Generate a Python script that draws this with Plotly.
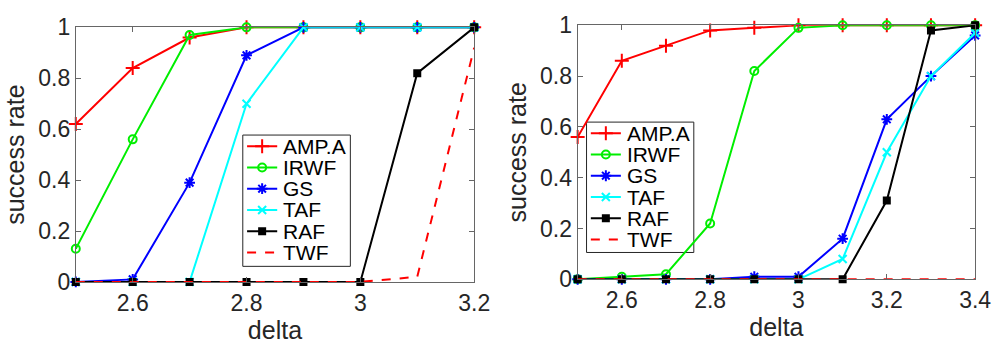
import plotly.graph_objects as go

# delta grids for the two experiments
delta_left = [2.5, 2.6, 2.7, 2.8, 2.9, 3.0, 3.1, 3.2]
delta_right = [2.5, 2.6, 2.7, 2.8, 2.9, 3.0, 3.1, 3.2, 3.3, 3.4]

# success rates, left panel
amp_left = [0.62, 0.84, 0.96, 1.0, 1.0, 1.0, 1.0, 1.0]
irwf_left = [0.13, 0.56, 0.97, 1.0, 1.0, 1.0, 1.0, 1.0]
gs_left = [0.0, 0.01, 0.39, 0.89, 1.0, 1.0, 1.0, 1.0]
taf_left = [0.0, 0.0, 0.0, 0.70, 1.0, 1.0, 1.0, 1.0]
raf_left = [0.0, 0.0, 0.0, 0.0, 0.0, 0.0, 0.82, 1.0]
twf_left = [0.0, 0.0, 0.0, 0.0, 0.0, 0.0, 0.02, 0.92]

# success rates, right panel
amp_right = [0.56, 0.86, 0.92, 0.98, 0.99, 1.0, 1.0, 1.0, 1.0, 1.0]
irwf_right = [0.0, 0.01, 0.02, 0.22, 0.82, 0.99, 1.0, 1.0, 1.0, 1.0]
gs_right = [0.0, 0.0, 0.0, 0.0, 0.01, 0.01, 0.16, 0.63, 0.80, 0.96]
taf_right = [0.0, 0.0, 0.0, 0.0, 0.0, 0.0, 0.08, 0.50, 0.80, 0.97]
raf_right = [0.0, 0.0, 0.0, 0.0, 0.0, 0.0, 0.0, 0.31, 0.98, 1.0]
twf_right = [0.0] * 10

# axis ticks
xticks_left = [2.6, 2.8, 3.0, 3.2]
xticklabels_left = ["2.6", "2.8", "3", "3.2"]
xticks_right = [2.6, 2.8, 3.0, 3.2, 3.4]
xticklabels_right = ["2.6", "2.8", "3", "3.2", "3.4"]
yticks = [0, 0.2, 0.4, 0.6, 0.8, 1.0]
yticklabels = ["0", "0.2", "0.4", "0.6", "0.8", "1"]

names = ["AMP.A", "IRWF", "GS", "TAF", "RAF", "TWF"]
styles = [
    dict(color="#ff0000", symbol="cross-thin-open", size=10, dash="solid"),
    dict(color="#00ee00", symbol="circle-open", size=8, dash="solid"),
    dict(color="#0000ff", symbol="asterisk-open", size=9, dash="solid"),
    dict(color="#00ffff", symbol="x-thin-open", size=8, dash="solid"),
    dict(color="#000000", symbol="square", size=6, dash="solid"),
    dict(color="#ff0000", symbol=None, size=0, dash="dash"),
]

TEXT = "#262626"
AXIS = "#666666"
FONT = "Liberation Sans, Arial, sans-serif"
W, H = 1008, 345

fig = go.Figure()


def marker_style(st):
    return dict(symbol=st["symbol"], size=st["size"], color=st["color"],
                line=dict(color=st["color"], width=2))


def add_panel(x, series, xaxis, yaxis):
    for name, y, st in zip(names, series, styles):
        mode = "lines" if st["symbol"] is None else "lines+markers"
        fig.add_trace(go.Scatter(
            x=x, y=y, name=name, mode=mode, showlegend=False,
            line=dict(color=st["color"], width=2, dash=st["dash"]),
            marker=marker_style(st) if st["symbol"] else None,
            xaxis=xaxis, yaxis=yaxis, cliponaxis=False,
        ))


def add_key(box, xaxis, yaxis):
    """Boxed key: one row per method, drawn on its own hidden axes."""
    x0, y0, x1, y1 = box
    fig.add_shape(type="rect", xref="paper", yref="paper",
                  x0=x0 / W, x1=x1 / W, y0=1 - y1 / H, y1=1 - y0 / H,
                  line=dict(color=TEXT, width=1), fillcolor="white", layer="below")
    for i, (name, st) in enumerate(zip(names, styles)):
        row = i + 0.5
        fig.add_trace(go.Scatter(
            x=[0.04, 0.32], y=[row, row], mode="lines", showlegend=False,
            line=dict(color=st["color"], width=2, dash=st["dash"]),
            xaxis=xaxis, yaxis=yaxis, hoverinfo="skip",
        ))
        if st["symbol"]:
            fig.add_trace(go.Scatter(
                x=[0.18], y=[row], mode="markers", showlegend=False,
                marker=marker_style(st), xaxis=xaxis, yaxis=yaxis, hoverinfo="skip",
            ))
        fig.add_annotation(x=0.355, y=row, xref=xaxis, yref=yaxis, text=name,
                           showarrow=False, xanchor="left", yanchor="middle",
                           font=dict(family=FONT, size=21, color="#000000"))


add_panel(delta_left, [amp_left, irwf_left, gs_left, taf_left, raf_left, twf_left], "x", "y")
add_panel(delta_right, [amp_right, irwf_right, gs_right, taf_right, raf_right, twf_right], "x2", "y2")

key_left = (246.7, 132, 356, 274)
key_right = (596, 118, 705, 259)
add_key(key_left, "x3", "y3")
add_key(key_right, "x4", "y4")

axis_common = dict(
    showgrid=False, zeroline=False, showline=True, linecolor=AXIS, linewidth=1,
    mirror="ticks", ticks="inside", ticklen=5, tickcolor=AXIS, tickwidth=1,
    tickfont=dict(family=FONT, size=23, color=TEXT),
)
title_font = dict(size=25, color=TEXT, family=FONT)


def key_axes(box):
    x0, y0, x1, y1 = box
    hidden = dict(visible=False, fixedrange=True, showgrid=False, zeroline=False)
    row_px = 23.0
    top = -12.0 / row_px + 0.5
    return (dict(hidden, domain=[x0 / W, x1 / W], range=[0, 1]),
            dict(hidden, domain=[1 - y1 / H, 1 - y0 / H],
                 range=[top + (y1 - y0) / row_px, top]))


kx3, ky3 = key_axes(key_left)
kx4, ky4 = key_axes(key_right)

fig.update_layout(
    width=W, height=H,
    margin=dict(l=0, r=0, t=0, b=0),
    paper_bgcolor="white", plot_bgcolor="rgba(0,0,0,0)",
    font=dict(family=FONT, color=TEXT),
    xaxis=dict(axis_common, domain=[0.0764, 0.478], range=[2.5, 3.2],
               tickvals=xticks_left, ticktext=xticklabels_left, anchor="y",
               title=dict(text="delta", font=title_font, standoff=5)),
    yaxis=dict(axis_common, domain=[0.157, 0.955], range=[0, 1],
               tickvals=yticks, ticktext=yticklabels, anchor="x",
               title=dict(text="success rate", font=title_font, standoff=6)),
    xaxis2=dict(axis_common, domain=[0.5823, 0.983], range=[2.5, 3.4],
                tickvals=xticks_right, ticktext=xticklabels_right, anchor="y2",
                title=dict(text="delta", font=title_font, standoff=5)),
    yaxis2=dict(axis_common, domain=[0.1652, 0.9614], range=[0, 1],
                tickvals=yticks, ticktext=yticklabels, anchor="x2",
                title=dict(text="success rate", font=title_font, standoff=6)),
    xaxis3=dict(kx3, anchor="y3"), yaxis3=dict(ky3, anchor="x3"),
    xaxis4=dict(kx4, anchor="y4"), yaxis4=dict(ky4, anchor="x4"),
)

fig.write_html("out.html")
